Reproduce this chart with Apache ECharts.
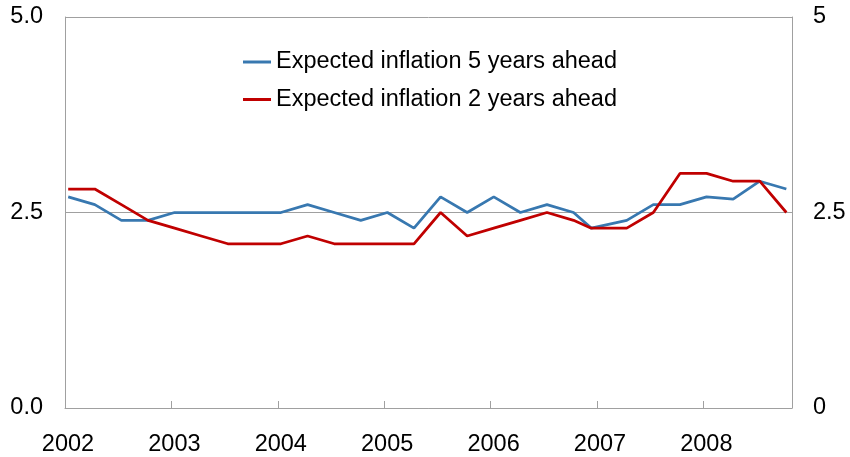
<!DOCTYPE html>
<html>
<head>
<meta charset="utf-8">
<script src="https://cdn.jsdelivr.net/npm/echarts@6/dist/echarts.min.js"></script>
<style>
html,body{margin:0;padding:0;background:#fff;}
#chart{width:850px;height:457px;}
</style>
</head>
<body>
<div id="chart"></div>
<script>
// Survey dates (approximate)
const dates = [
  '2002-01-12','2002-04-12','2002-07-12','2002-10-12',
  '2003-01-12','2003-04-12','2003-07-12','2003-10-12',
  '2004-01-12','2004-04-12','2004-07-12','2004-10-12',
  '2005-01-12','2005-04-12','2005-07-12','2005-10-12',
  '2006-01-12','2006-04-12','2006-07-12','2006-10-12',
  '2006-12-12',
  '2007-04-12','2007-07-12','2007-10-12',
  '2008-01-12','2008-04-12','2008-07-12','2008-10-12'
];
const fiveYears = [2.7,2.6,2.4,2.4, 2.5,2.5,2.5,2.5, 2.5,2.6,2.5,2.4, 2.5,2.3,2.7,2.5, 2.7,2.5,2.6,2.5, 2.3, 2.4,2.6,2.6, 2.7,2.67,2.9,2.8];
const twoYears  = [2.8,2.8,2.6,2.4, 2.3,2.2,2.1,2.1, 2.1,2.2,2.1,2.1, 2.1,2.1,2.5,2.2, 2.3,2.4,2.5,2.4, 2.3, 2.3,2.5,3.0, 3.0,2.9,2.9,2.5];
const seriesNames = ['Expected inflation 5 years ahead','Expected inflation 2 years ahead'];
const yearTicks = [2002,2003,2004,2005,2006,2007,2008];
const xMin = 2002, xMax = 2008 + 10/12;

function toYearFrac(s){
  const p = s.split('-').map(Number);
  return p[0] + (p[1]-1)/12 + (p[2]-1)/365;
}
const xs = dates.map(toYearFrac);
const pts = arr => arr.map((v,i)=>[xs[i], v]);

const font = 'Liberation Sans, Arial, sans-serif';
const fs = 23.5;
const axisGray = '#a0a0a0';
const chart = echarts.init(document.getElementById('chart'), null, {renderer:'canvas'});
chart.setOption({
  animation:false,
  backgroundColor:'#fff',
  grid:{left:65, right:58, top:17, bottom:48, containLabel:false},
  legend:{
    orient:'vertical', left:243, top:50, itemGap:13.5, padding:0,
    icon:'rect', itemWidth:28, itemHeight:3,
    textStyle:{fontFamily:font, fontSize:fs, color:'#000'},
    data:seriesNames
  },
  xAxis:{
    type:'value', min:xMin, max:xMax, interval:1,
    axisLine:{show:true, lineStyle:{color:axisGray, width:1}},
    axisTick:{show:true, inside:true, length:7, lineStyle:{color:axisGray}},
    splitLine:{show:false},
    axisLabel:{
      fontFamily:font, fontSize:fs, color:'#000', margin:25,
      padding:[0,0,0,6], showMaxLabel:false,
      formatter:v=> yearTicks.indexOf(Math.round(v))>=0 && Math.abs(v-Math.round(v))<1e-6 ? String(Math.round(v)) : ''
    }
  },
  yAxis:[
    {
      type:'value', min:0, max:5, interval:2.5, position:'left',
      axisLine:{show:true, lineStyle:{color:axisGray}},
      axisTick:{show:false},
      splitLine:{show:true, lineStyle:{color:axisGray, width:1}},
      axisLabel:{fontFamily:font, fontSize:fs, color:'#000', margin:22, formatter:v=>v.toFixed(1)}
    },
    {
      type:'value', min:0, max:5, interval:2.5, position:'right',
      axisLine:{show:true, lineStyle:{color:axisGray}},
      axisTick:{show:false},
      splitLine:{show:false},
      axisLabel:{fontFamily:font, fontSize:fs, color:'#000', margin:21, formatter:v=>String(v)}
    }
  ],
  series:[
    {name:seriesNames[0], type:'line', data:pts(fiveYears), showSymbol:false, symbol:'none',
     itemStyle:{color:'#3878b0'}, lineStyle:{color:'#3878b0', width:2.75}},
    {name:seriesNames[1], type:'line', data:pts(twoYears), showSymbol:false, symbol:'none',
     itemStyle:{color:'#c00000'}, lineStyle:{color:'#c00000', width:2.75}}
  ]
});
</script>
</body>
</html>
